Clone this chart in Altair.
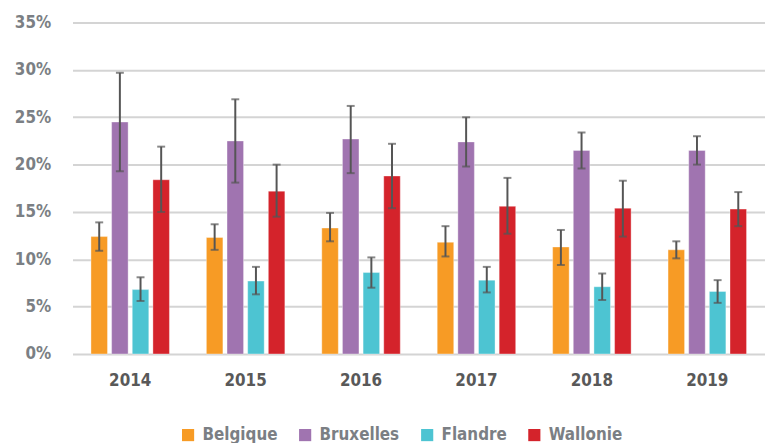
import altair as alt
import pandas as pd

years = ["2014", "2015", "2016", "2017", "2018", "2019"]
regions = ["Belgique", "Bruxelles", "Flandre", "Wallonie"]
colors = ["#F79B25", "#A074B0", "#4DC4D2", "#D4232B"]

belgique = [12.4, 12.3, 13.3, 11.8, 11.3, 11.0]
belgique_lo = [10.9, 11.0, 11.9, 10.3, 9.4, 10.1]
belgique_hi = [13.9, 13.7, 14.9, 13.5, 13.1, 11.9]

bruxelles = [24.5, 22.5, 22.7, 22.4, 21.5, 21.5]
bruxelles_lo = [19.3, 18.1, 19.1, 19.8, 19.6, 20.0]
bruxelles_hi = [29.7, 26.9, 26.2, 25.0, 23.4, 23.0]

flandre = [6.8, 7.7, 8.6, 7.8, 7.1, 6.6]
flandre_lo = [5.6, 6.3, 7.0, 6.5, 5.7, 5.4]
flandre_hi = [8.1, 9.2, 10.2, 9.2, 8.5, 7.8]

wallonie = [18.4, 17.2, 18.8, 15.6, 15.4, 15.3]
wallonie_lo = [15.0, 14.5, 15.4, 12.7, 12.4, 13.5]
wallonie_hi = [21.9, 20.0, 22.2, 18.6, 18.3, 17.1]

series = {
    "Belgique": (belgique, belgique_lo, belgique_hi),
    "Bruxelles": (bruxelles, bruxelles_lo, bruxelles_hi),
    "Flandre": (flandre, flandre_lo, flandre_hi),
    "Wallonie": (wallonie, wallonie_lo, wallonie_hi),
}

rows = []
for r in regions:
    v, lo, hi = series[r]
    for i, y in enumerate(years):
        rows.append({"year": y, "region": r, "value": v[i], "lo": lo[i], "hi": hi[i]})
df = pd.DataFrame(rows)

FONT = "DejaVu Sans Condensed"

x = alt.X("year:N", sort=years,
          scale=alt.Scale(paddingInner=0.32, paddingOuter=0.16),
          axis=alt.Axis(title=None, labelAngle=0, domain=False, ticks=False,
                        labelFont=FONT, labelFontWeight="bold", labelFontSize=17,
                        labelColor="#595959", labelPadding=19))
xo = alt.XOffset("region:N", sort=regions,
                 scale=alt.Scale(paddingInner=0.2, paddingOuter=0))

base = alt.Chart(df)

bars = base.mark_bar(stroke="white", strokeWidth=0.6, strokeOpacity=0.6).encode(
    x=x,
    xOffset=xo,
    y=alt.Y("value:Q", scale=alt.Scale(domain=[0, 35]),
            axis=alt.Axis(title=None, values=[0, 5, 10, 15, 20, 25, 30, 35],
                          labelExpr="datum.value + '%'", domain=False, ticks=False,
                          gridColor="#D4D4D4", gridWidth=2,
                          labelFont=FONT, labelFontWeight="bold", labelFontSize=17,
                          labelColor="#7B7F84", labelPadding=22)),
    color=alt.Color("region:N", sort=regions,
                    scale=alt.Scale(domain=regions, range=colors),
                    legend=alt.Legend(title=None, orient="none", direction="horizontal",
                                      legendX=108, legendY=407,
                                      symbolType="square", symbolSize=150,
                                      symbolStrokeWidth=0, labelOffset=6,
                                      columnPadding=19,
                                      labelFont=FONT, labelFontWeight="bold",
                                      labelFontSize=17, labelColor="#7B7F84")),
)

rules = base.mark_rule(color="#555555", strokeWidth=2).encode(
    x=x, xOffset=xo, y="lo:Q", y2="hi:Q")

tick_hi = base.mark_tick(color="#555555", thickness=2, size=8).encode(
    x=x, xOffset=xo, y="hi:Q")
tick_lo = base.mark_tick(color="#555555", thickness=2, size=8).encode(
    x=x, xOffset=xo, y="lo:Q")

chart = alt.layer(bars, rules, tick_hi, tick_lo).properties(
    width=698, height=334,
    autosize=alt.AutoSizeParams(type="none"),
    padding={"left": 65, "top": 13, "right": 0, "bottom": 88},
).configure_view(stroke=None)

chart.save("out.html", embed_options={"renderer": "svg", "actions": False})
